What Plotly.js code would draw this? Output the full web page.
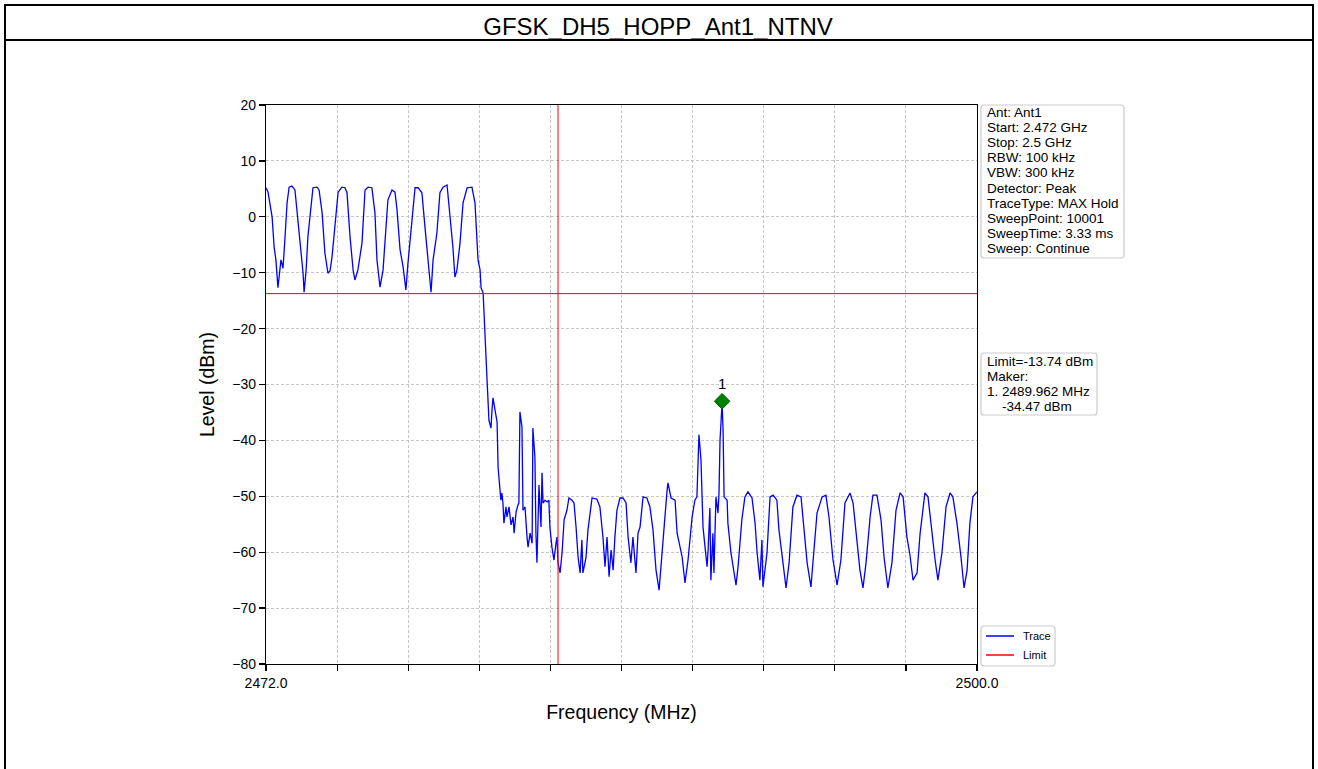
<!DOCTYPE html>
<html>
<head>
<meta charset="utf-8">
<script src="https://cdn.plot.ly/plotly-3.0.1.min.js"></script>
<style>
  html, body { margin: 0; padding: 0; background: #ffffff; }
  #chart { width: 1318px; height: 769px; }
</style>
</head>
<body>
<div id="chart"></div>
<script>
// ---- data ----
const chartTitle = "GFSK_DH5_HOPP_Ant1_NTNV";

const traceFreqMHz = [
  2472.00,2472.08,2472.24,2472.32,2472.39,2472.47,2472.59,2472.67,2472.75,2472.83,2472.91,
  2473.02,2473.14,2473.26,2473.38,2473.46,2473.50,2473.58,2473.65,2473.77,2473.85,
  2474.01,2474.09,2474.21,2474.32,2474.44,2474.52,2474.60,2474.72,2474.84,2474.99,
  2475.11,2475.19,2475.31,2475.43,2475.50,2475.62,2475.78,2475.90,
  2476.02,2476.17,2476.29,2476.37,2476.49,2476.61,2476.73,2476.80,2476.96,
  2477.08,2477.16,2477.28,2477.40,2477.51,2477.59,2477.75,2477.87,2477.99,
  2478.14,2478.26,2478.38,2478.50,2478.58,2478.73,2478.85,2478.97,
  2479.13,2479.25,2479.36,2479.44,2479.52,2479.64,2479.76,2479.92,
  2480.11,2480.23,2480.35,2480.43,2480.47,2480.55,2480.59,2480.66,2480.70,2480.78,2480.86,2480.90,2480.94,
  2481.02,2481.10,2481.14,2481.18,2481.25,2481.29,2481.33,2481.37,2481.45,2481.49,2481.57,2481.65,2481.73,2481.77,2481.85,2481.92,2481.96,
  2482.00,2482.08,2482.12,2482.20,2482.28,2482.32,2482.40,2482.48,2482.51,2482.59,2482.63,2482.67,2482.75,2482.83,2482.87,2482.91,2482.99,
  2483.07,2483.14,2483.18,2483.26,2483.34,2483.42,2483.46,2483.50,2483.58,2483.66,2483.74,2483.85,2483.93,
  2484.05,2484.13,2484.21,2484.29,2484.37,2484.44,2484.48,2484.60,2484.68,2484.84,
  2485.03,2485.15,2485.27,2485.35,2485.43,2485.51,2485.59,2485.67,2485.74,2485.82,2485.94,
  2486.06,2486.18,2486.26,2486.37,2486.45,2486.57,2486.65,2486.73,2486.85,
  2487.00,2487.12,2487.24,2487.36,2487.48,2487.59,2487.67,2487.79,2487.83,2487.95,
  2488.11,2488.19,2488.31,2488.39,2488.50,2488.62,2488.78,2488.89,2488.97,
  2489.05,2489.13,2489.21,2489.29,2489.37,2489.41,2489.48,2489.52,2489.60,2489.64,2489.72,2489.80,2489.84,2489.88,2489.96,
  2490.00,2490.04,2490.16,2490.19,2490.31,2490.39,2490.51,2490.59,2490.74,2490.86,2490.98,
  2491.14,2491.26,2491.34,2491.45,2491.53,2491.57,2491.73,2491.85,2491.97,
  2492.12,2492.20,2492.36,2492.48,2492.60,2492.75,2492.91,
  2493.07,2493.19,2493.31,2493.46,2493.54,2493.70,2493.90,
  2494.05,2494.17,2494.33,2494.49,2494.64,2494.80,
  2495.00,2495.12,2495.27,2495.39,2495.51,2495.63,2495.79,2495.90,
  2496.06,2496.22,2496.34,2496.49,2496.65,2496.81,2496.97,
  2497.09,2497.24,2497.36,2497.48,2497.64,2497.76,2497.95,
  2498.07,2498.23,2498.35,2498.46,2498.62,2498.78,2498.94,
  2499.05,2499.21,2499.37,2499.49,2499.61,2499.72,2499.84,2500.00
];

const traceLevelDbm = [
  5.2,4.4,0.0,-5.4,-7.7,-12.7,-7.7,-9.2,-3.6,2.5,5.3,
  5.5,4.8,-0.6,-6.5,-10.1,-13.5,-9.5,-3.6,2.5,5.2,
  5.3,4.8,0.7,-6.5,-10.1,-9.7,-7.2,-1.8,4.4,5.3,
  5.2,4.3,-3.6,-9.5,-11.3,-9.5,-4.7,4.8,
  5.3,5.2,0.7,-7.7,-12.6,-9.5,-2.4,3.0,4.8,
  4.4,1.2,-5.9,-9.0,-13.1,-8.3,-0.6,5.2,5.2,
  4.3,-1.8,-7.2,-13.5,-7.7,-2.9,4.3,5.3,
  5.7,0.0,-5.4,-10.8,-9.5,-4.7,2.5,5.2,
  5.3,2.5,-7.7,-9.5,-12.7,-13.6,-17.0,-23.3,-28.7,-36.4,-37.8,-34.6,-32.4,
  -34.6,-36.7,-44.8,-47.6,-50.7,-49.4,-51.2,-54.8,-51.9,-53.7,-51.9,-55.1,-53.7,-56.6,-52.8,-51.6,-51.2,
  -34.9,-37.6,-52.5,-51.9,-57.3,-59.1,-56.6,-58.4,-37.8,-43.0,-56.6,-61.9,-48.0,-55.5,-45.8,-51.2,-50.7,
  -51.0,-50.7,-55.5,-59.1,-61.4,-58.4,-57.3,-61.9,-63.7,-60.1,-54.2,-52.5,-50.3,
  -50.7,-51.2,-55.5,-60.9,-63.7,-57.8,-63.7,-61.0,-56.0,-50.3,
  -50.5,-51.9,-57.3,-62.6,-57.3,-64.4,-59.6,-63.2,-57.3,-52.5,-50.3,
  -50.3,-51.2,-57.3,-61.9,-57.3,-63.7,-56.6,-55.5,-50.1,
  -50.3,-51.9,-56.0,-63.2,-66.8,-59.6,-56.0,-49.2,-47.6,-50.3,
  -50.7,-56.6,-59.1,-60.9,-65.5,-61.4,-53.7,-50.7,-50.1,
  -39.0,-43.5,-55.5,-59.1,-62.6,-59.6,-52.1,-65.0,-56.6,-63.7,-50.1,-53.0,-49.4,-40.0,-33.3,
  -38.1,-50.1,-50.7,-54.8,-60.1,-62.6,-65.9,-62.6,-54.2,-50.1,-49.2,
  -50.3,-54.8,-60.1,-65.0,-57.8,-66.2,-60.1,-50.1,-49.8,
  -50.7,-56.0,-61.9,-66.4,-61.9,-51.9,-49.8,
  -50.1,-56.0,-61.9,-66.2,-61.4,-53.0,-50.1,
  -49.8,-53.7,-61.4,-65.9,-61.4,-51.2,
  -49.4,-51.2,-58.4,-63.2,-66.4,-61.9,-53.7,-49.8,
  -49.8,-54.2,-60.9,-66.4,-61.9,-52.5,-49.4,
  -50.1,-57.3,-60.5,-65.0,-63.7,-56.6,-49.4,
  -50.1,-57.3,-61.4,-65.0,-60.1,-51.9,-49.4,
  -50.1,-54.8,-60.9,-66.4,-63.2,-54.8,-50.1,-49.2
];

const limitFreqMHz = [2472, 2500];
const limitLevelDbm = [-13.74, -13.74];

const bandEdgeFreqMHz = [2483.5, 2483.5];
const bandEdgeLevelDbm = [-80, 20];

const markerFreqMHz = [2489.962];
const markerLevelDbm = [-33.0];
const markerLabels = ["1"];

const xTickVals = [2472.0, 2474.8, 2477.6, 2480.4, 2483.2, 2486.0, 2488.8, 2491.6, 2494.4, 2497.2, 2500.0];
const xTickText = ["2472.0", "", "", "", "", "", "", "", "", "", "2500.0"];
const yTickVals = [-80, -70, -60, -50, -40, -30, -20, -10, 0, 10, 20];

const legendNames = ["Trace", "Limit"];
const legendColors = ["#0000ff", "#ff0000"];

const infoLines = [
  "Ant: Ant1", "Start: 2.472 GHz", "Stop: 2.5 GHz", "RBW: 100 kHz", "VBW: 300 kHz",
  "Detector: Peak", "TraceType: MAX Hold", "SweepPoint: 10001", "SweepTime: 3.33 ms", "Sweep: Continue"
];
const markerInfoLines = ["Limit=-13.74 dBm", "Maker:", "1. 2489.962 MHz", "    -34.47 dBm"];

// ---- layout geometry (pixels) ----
const W = 1318, H = 769;
const PL = 266, PR = 977, PT = 105, PB = 664;
const pw = PR - PL, ph = PB - PT;
const px = v => (v - PL) / pw;
const py = v => (PB - v) / ph;

const FONT = "Liberation Sans, Arial, Helvetica, sans-serif";

function roundRect(x0, y0, x1, y1, r) {
  // pixel box -> rounded path in paper coordinates
  const P = (x, y) => px(x).toFixed(5) + "," + py(y).toFixed(5);
  return "M" + P(x0 + r, y0) + " L" + P(x1 - r, y0) + " Q" + P(x1, y0) + " " + P(x1, y0 + r) +
         " L" + P(x1, y1 - r) + " Q" + P(x1, y1) + " " + P(x1 - r, y1) +
         " L" + P(x0 + r, y1) + " Q" + P(x0, y1) + " " + P(x0, y1 - r) +
         " L" + P(x0, y0 + r) + " Q" + P(x0, y0) + " " + P(x0 + r, y0) + " Z";
}

const traces = [
  {
    x: traceFreqMHz, y: traceLevelDbm, type: "scatter", mode: "lines",
    name: "Trace", showlegend: false, line: { color: "#0000ff", width: 1.3 }
  },
  {
    x: limitFreqMHz, y: limitLevelDbm, type: "scatter", mode: "lines",
    name: "Limit", showlegend: false, line: { color: "#ff0000", width: 1 }
  },
  {
    x: bandEdgeFreqMHz, y: bandEdgeLevelDbm, type: "scatter", mode: "lines",
    showlegend: false, line: { color: "#ff0000", width: 1 }
  },
  {
    x: markerFreqMHz, y: markerLevelDbm, type: "scatter", mode: "markers+text",
    showlegend: false, text: markerLabels, textposition: "top center",
    textfont: { family: FONT, size: 15, color: "#000000" },
    marker: { symbol: "diamond", size: 12, color: "#008000", line: { color: "#006400", width: 1 } }
  }
];

const annotations = [];
const shapes = [
  { type: "rect", xref: "paper", yref: "paper", x0: px(5), x1: px(1313), y0: py(5), y1: py(775),
    line: { color: "#000000", width: 2 }, fillcolor: "rgba(0,0,0,0)", layer: "below" },
  { type: "line", xref: "paper", yref: "paper", x0: px(5), x1: px(1313), y0: py(40), y1: py(40),
    line: { color: "#000000", width: 2 } },
  { type: "path", xref: "paper", yref: "paper", path: roundRect(981, 105, 1124, 258, 3),
    fillcolor: "#ffffff", line: { color: "#cccccc", width: 1.2 } },
  { type: "path", xref: "paper", yref: "paper", path: roundRect(981, 353, 1097, 415, 3),
    fillcolor: "#ffffff", line: { color: "#cccccc", width: 1.2 } },
  { type: "path", xref: "paper", yref: "paper", path: roundRect(981, 626, 1055, 666, 3),
    fillcolor: "#ffffff", line: { color: "#cccccc", width: 1.2 } }
];

infoLines.forEach((s, i) => {
  annotations.push({
    xref: "paper", yref: "paper", x: px(985), y: py(112.5 + 15.1 * i), xanchor: "left", yanchor: "middle",
    text: s, showarrow: false, font: { family: FONT, size: 13.5, color: "#000000" }
  });
});
markerInfoLines.forEach((s, i) => {
  annotations.push({
    xref: "paper", yref: "paper", x: px(985), y: py(361 + 15.1 * i), xanchor: "left", yanchor: "middle",
    text: s.replace(/^ +/, m => "&nbsp;".repeat(m.length)), showarrow: false,
    font: { family: FONT, size: 13.5, color: "#000000" }
  });
});
legendNames.forEach((name, i) => {
  const yy = 636 + 19 * i;
  shapes.push({ type: "line", xref: "paper", yref: "paper", x0: px(986), x1: px(1014), y0: py(yy), y1: py(yy),
                line: { color: legendColors[i], width: 1.5 } });
  annotations.push({
    xref: "paper", yref: "paper", x: px(1021), y: py(yy), xanchor: "left", yanchor: "middle",
    text: name, showarrow: false, font: { family: FONT, size: 11, color: "#000000" }
  });
});

const layout = {
  width: W, height: H,
  margin: { l: PL, r: W - PR, t: PT, b: H - PB, pad: 0 },
  paper_bgcolor: "#ffffff", plot_bgcolor: "#ffffff",
  font: { family: FONT, color: "#000000" },
  title: { text: chartTitle, font: { family: FONT, size: 24, color: "#000000" },
           x: 658 / W, xref: "container", xanchor: "center", y: 1 - 27 / H, yref: "container", yanchor: "middle" },
  xaxis: {
    range: [2472, 2500], tickmode: "array", tickvals: xTickVals, ticktext: xTickText,
    ticks: "outside", ticklen: 6, tickwidth: 1.2, tickcolor: "#000000",
    tickfont: { family: FONT, size: 14, color: "#000000" },
    showgrid: true, gridcolor: "#b8b8b8", griddash: "3px,2px", gridwidth: 0.8,
    showline: true, linecolor: "#000000", linewidth: 1.2, mirror: true, zeroline: false,
    title: { text: "Frequency (MHz)", font: { family: FONT, size: 19.5, color: "#000000" }, standoff: 15 }
  },
  yaxis: {
    range: [-80, 20], tickmode: "array", tickvals: yTickVals,
    ticks: "outside", ticklen: 6, tickwidth: 1.2, tickcolor: "#000000",
    tickfont: { family: FONT, size: 14, color: "#000000" },
    showgrid: true, gridcolor: "#b8b8b8", griddash: "3px,2px", gridwidth: 0.8,
    showline: true, linecolor: "#000000", linewidth: 1.2, mirror: true, zeroline: false,
    title: { text: "Level (dBm)", font: { family: FONT, size: 19.5, color: "#000000" }, standoff: 12 }
  },
  showlegend: false,
  annotations: annotations,
  shapes: shapes
};

Plotly.newPlot("chart", traces, layout, { displayModeBar: false, staticPlot: true });
</script>
</body>
</html>
